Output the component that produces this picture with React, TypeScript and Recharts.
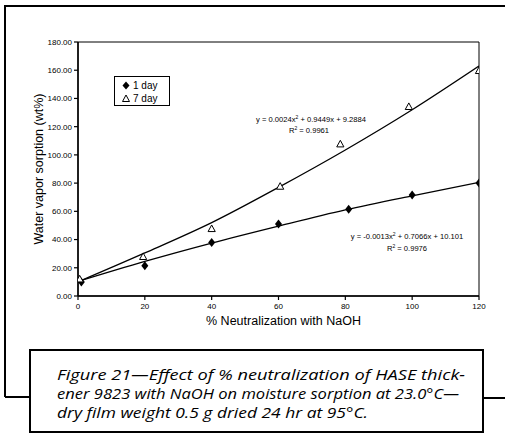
import {
  ComposedChart,
  Line,
  Scatter,
  XAxis,
  YAxis,
  ReferenceArea,
  Legend,
} from 'recharts';

// measured points
const day1X = [1, 20, 40, 60, 81, 100, 120];
const day1Y = [10, 21.5, 38, 51, 61.5, 71.5, 80];
const day7X = [0.5, 19.5, 40, 60.5, 78.5, 99, 120];
const day7Y = [11.8, 27.7, 47.5, 77.5, 107.5, 134, 159.5];

// polynomial trend lines as drawn
const trendX = [0, 20, 40, 60, 80, 100, 120];
const trend1Y = [10.3, 24.5, 37.5, 49.5, 61, 71, 80.5];
const trend7Y = [10, 30.5, 52, 77, 103.5, 132, 163];

const xTicks = [0, 20, 40, 60, 80, 100, 120];
const yTicks = [0, 20, 40, 60, 80, 100, 120, 140, 160, 180];

const captionLines = [
  'Figure 21\u2014Effect of % neutralization of HASE thick-',
  'ener 9823 with NaOH on moisture sorption at 23.0\u00b0C\u2014',
  'dry film weight 0.5 g dried 24 hr at 95\u00b0C.',
];

const day1 = day1X.map((x, i) => ({ x, y: day1Y[i] }));
const day7 = day7X.map((x, i) => ({ x, y: day7Y[i] }));
const trend1 = trendX.map((x, i) => ({ x, y: trend1Y[i] }));
const trend7 = trendX.map((x, i) => ({ x, y: trend7Y[i] }));

const FONT = '"Liberation Sans", Arial, sans-serif';

const Diamond = (props: any) => {
  const { cx, cy } = props;
  return (
    <path
      d={`M${cx},${cy - 4.5}L${cx + 3.5},${cy}L${cx},${cy + 4.5}L${cx - 3.5},${cy}Z`}
      fill="#000"
    />
  );
};

const Triangle = (props: any) => {
  const { cx, cy } = props;
  return (
    <path
      d={`M${cx},${cy - 4}L${cx + 3.6},${cy + 2.6}L${cx - 3.6},${cy + 2.6}Z`}
      fill="#fff"
      stroke="#000"
      strokeWidth={1}
    />
  );
};

const renderLegend = () => (
  <div
    style={{
      border: '1px solid #000',
      background: '#fff',
      width: 56,
      height: 30,
      fontFamily: FONT,
      fontSize: 10,
      color: '#000',
      boxSizing: 'border-box',
      padding: '2px 0 0 7px',
      lineHeight: '13px',
    }}
  >
    <div>
      <svg width={8} height={9} style={{ verticalAlign: -1, marginRight: 3 }}>
        <path d="M4,0.5L7.5,4.5L4,8.5L0.5,4.5Z" fill="#000" />
      </svg>
      1 day
    </div>
    <div>
      <svg width={8} height={9} style={{ verticalAlign: -1, marginRight: 3 }}>
        <path d="M4,1L7.5,7.5L0.5,7.5Z" fill="#fff" stroke="#000" />
      </svg>
      7 day
    </div>
  </div>
);

export default function App() {
  return (
    <div style={{ position: 'absolute', left: 0, top: 0, width: 505, height: 435, background: '#fff' }}>
      <ComposedChart
        width={505}
        height={435}
        margin={{ top: 42, right: 26, bottom: 109, left: 0 }}
        style={{ fontFamily: FONT }}
      >
        <XAxis
          dataKey="x"
          type="number"
          domain={[0, 120]}
          ticks={xTicks}
          allowDataOverflow
          height={30}
          tickSize={4}
          tickMargin={3}
          tick={{ fontSize: 8, fill: '#000' }}
          axisLine={{ stroke: '#000', strokeWidth: 1.5 }}
          tickLine={{ stroke: '#000', strokeWidth: 1.2 }}
          label={{
            value: '% Neutralization with NaOH',
            position: 'insideTop',
            offset: 20,
            dx: 5,
            fontSize: 12.5,
            fill: '#000',
          }}
        />
        <YAxis
          type="number"
          domain={[0, 180]}
          ticks={yTicks}
          width={78}
          tickSize={4}
          tickMargin={2}
          tickFormatter={(v: number) => v.toFixed(2)}
          tick={{ fontSize: 8, fill: '#000' }}
          axisLine={{ stroke: '#000', strokeWidth: 1.5 }}
          tickLine={{ stroke: '#000', strokeWidth: 1.2 }}
          label={{
            value: 'Water vapor sorption (wt%)',
            angle: -90,
            position: 'center',
            dx: 0,
            fontSize: 12.5,
            fill: '#000',
          }}
        />
        <ReferenceArea x1={0} x2={120} y1={0} y2={180} fill="none" stroke="#000" strokeWidth={1} />
        <Line
          data={trend7}
          dataKey="y"
          type="monotone"
          stroke="#000"
          strokeWidth={1.3}
          dot={false}
          legendType="none"
          isAnimationActive={false}
        />
        <Line
          data={trend1}
          dataKey="y"
          type="monotone"
          stroke="#000"
          strokeWidth={1.3}
          dot={false}
          legendType="none"
          isAnimationActive={false}
        />
        <Scatter name="1 day" data={day1} dataKey="y" shape={Diamond} isAnimationActive={false} />
        <Scatter name="7 day" data={day7} dataKey="y" shape={Triangle} isAnimationActive={false} />
        <Legend
          layout="vertical"
          align="center"
          verticalAlign="middle"
          content={renderLegend}
          wrapperStyle={{ position: 'absolute', left: 114, top: 76, width: 56, height: 30 }}
        />
      </ComposedChart>
      <svg
        width={505}
        height={435}
        style={{ position: 'absolute', left: 0, top: 0, pointerEvents: 'none' }}
      >
        <g fontFamily={FONT} fontSize={7.6} fill="#000" textAnchor="middle">
          <text x={311} y={122}>
            y = 0.0024x<tspan dy={-3} fontSize={5}>2</tspan>
            <tspan dy={3}> + 0.9449x + 9.2884</tspan>
          </text>
          <text x={309} y={133}>
            R<tspan dy={-3} fontSize={5}>2</tspan>
            <tspan dy={3}> = 0.9961</tspan>
          </text>
          <text x={407} y={239}>
            y = -0.0013x<tspan dy={-3} fontSize={5}>2</tspan>
            <tspan dy={3}> + 0.7066x + 10.101</tspan>
          </text>
          <text x={407} y={251}>
            R<tspan dy={-3} fontSize={5}>2</tspan>
            <tspan dy={3}> = 0.9976</tspan>
          </text>
        </g>
        <path d="M5,397L5,6L505,6" fill="none" stroke="#000" strokeWidth={2} />
        <path d="M5,397L30,397M483,398L505,398" fill="none" stroke="#000" strokeWidth={2} />
        <rect x={30} y={350} width={453} height={82} fill="#fff" stroke="#000" strokeWidth={2} />
        <g fontFamily='"Open Sans", sans-serif' fontStyle="italic" fontWeight={400} fontSize={14} fill="#000">
          <text x={57} y={380} textLength={408} lengthAdjust="spacingAndGlyphs">
            {captionLines[0]}
          </text>
          <text x={57} y={399} textLength={402} lengthAdjust="spacingAndGlyphs">
            {captionLines[1]}
          </text>
          <text x={57} y={418} textLength={311} lengthAdjust="spacingAndGlyphs">
            {captionLines[2]}
          </text>
        </g>
      </svg>
    </div>
  );
}
